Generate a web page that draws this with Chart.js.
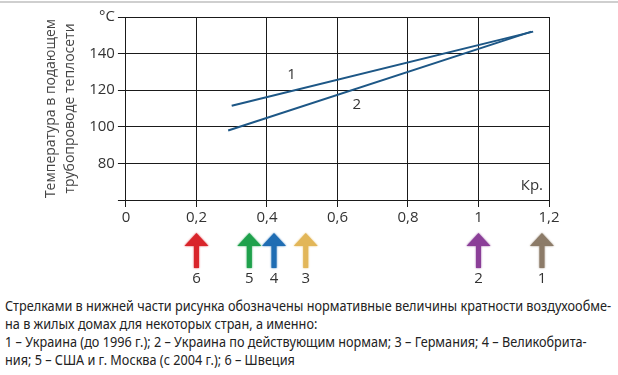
<!DOCTYPE html>
<html>
<head>
<meta charset="utf-8">
<script src="https://cdn.jsdelivr.net/npm/chart.js@4"></script>
<style>
    html, body { margin: 0; padding: 0; background: #fff; }
    body { width: 618px; height: 375px; position: relative; overflow: hidden; }
    .topline { position: absolute; left: 0; top: 1px; width: 618px; height: 2px; background: #cfcfcf; }
    .chart-box { position: absolute; left: 0; top: 0; width: 618px; height: 292px; }
    .caption {
        position: absolute; left: 5px; top: 296px;
        font-family: "Noto Sans", "Open Sans", sans-serif;
        font-size: 15px; line-height: 18px; color: #222;
        white-space: nowrap; transform-origin: 0 0;
    }
</style>
</head>
<body>
<div class="topline"></div>
<div class="chart-box"><canvas id="tempChart"></canvas></div>
<div class="caption" id="caption">
    <div id="cap-first">Стрелками в нижней части рисунка обозначены нормативные величины кратности воздухообме-</div>
    <div>на в жилых домах для некоторых стран, а именно:</div>
    <div>1 – Украина (до 1996 г.); 2 – Украина по действующим нормам; 3 – Германия; 4 – Великобрита-</div>
    <div>ния; 5 – США и г. Москва (с 2004 г.); 6 – Швеция</div>
</div>
<script>
// Data
const line1K = [0.3, 1.155];
const line1T = [111.5, 152];
const line2K = [0.29, 1.15];
const line2T = [98, 152];

const lineLabels = ['1', '2'];
const lineLabelK = [0.47, 0.655];
const lineLabelT = [128.5, 112];

const arrowK = [1.18, 1.0, 0.51, 0.42, 0.35, 0.2];
const arrowNames = ['1', '2', '3', '4', '5', '6'];
const arrowColors = ['#8c7b68', '#8b3f98', '#e2b658', '#1f6db3', '#1fa14c', '#d9252b'];

const yTitle = ['Температура в подающем', 'трубопроводе теплосети'];

const LINE_COLOR = '#1d5786';
const GRID_COLOR = '#1a1a1a';
const TEXT_COLOR = '#333';
const FONT = '"Open Sans", sans-serif';

// Squeeze the caption so the first line spans the picture width, like the condensed original
const caption = document.getElementById('caption');
const firstLine = document.getElementById('cap-first');
const capScale = 606 / firstLine.getBoundingClientRect().width;
caption.style.transform = 'scaleX(' + capScale + ')';

// Grid drawn from the scales' own ticks (the built-in grid drops lines when tick callbacks are used)
const gridLines = {
    id: 'gridLines',
    beforeDatasetsDraw(chart) {
        const { ctx, chartArea: a, scales: { x, y } } = chart;
        const align = p => Math.round(p - 0.5) + 0.5;
        ctx.save();
        ctx.strokeStyle = GRID_COLOR;
        ctx.lineWidth = 1;
        x.ticks.forEach(t => {
            const px = align(x.getPixelForValue(t.value));
            ctx.beginPath();
            ctx.moveTo(px, a.top);
            ctx.lineTo(px, a.bottom + 7);
            ctx.stroke();
        });
        y.ticks.forEach(t => {
            const py = align(y.getPixelForValue(t.value));
            ctx.beginPath();
            ctx.moveTo(a.left - 8, py);
            ctx.lineTo(a.right, py);
            ctx.stroke();
        });
        ctx.restore();
    }
};

// Labels "1", "2" near the lines and "Кр." inside plot
const annotations = {
    id: 'annotations',
    afterDatasetsDraw(chart) {
        const { ctx, scales: { x, y }, chartArea } = chart;
        ctx.save();
        ctx.fillStyle = TEXT_COLOR;
        ctx.font = '15px ' + FONT;
        ctx.textAlign = 'center';
        ctx.textBaseline = 'middle';
        lineLabels.forEach((t, i) => {
            ctx.fillText(t, x.getPixelForValue(lineLabelK[i]), y.getPixelForValue(lineLabelT[i]));
        });
        ctx.textAlign = 'right';
        ctx.fillText('Кр.', chartArea.right - 6, chartArea.bottom - 14);
        ctx.restore();
    }
};

// Arrows under the x axis
const arrows = {
    id: 'arrows',
    afterDraw(chart) {
        const { ctx, scales: { x } } = chart;
        const top = 233, headBase = 246, shaftEnd = 268;
        ctx.save();
        arrowK.forEach((k, i) => {
            const px = x.getPixelForValue(k);
            ctx.fillStyle = arrowColors[i];
            ctx.shadowColor = arrowColors[i];
            ctx.shadowBlur = 2;
            ctx.beginPath();
            ctx.moveTo(px, top);
            ctx.lineTo(px + 12, headBase);
            ctx.lineTo(px - 12, headBase);
            ctx.closePath();
            ctx.fill();
            ctx.fillRect(px - 2.5, headBase - 1, 5, shaftEnd - headBase + 1);
            ctx.shadowBlur = 0;
            ctx.fillStyle = TEXT_COLOR;
            ctx.font = '15px ' + FONT;
            ctx.textAlign = 'center';
            ctx.textBaseline = 'middle';
            ctx.fillText(arrowNames[i], px, 279);
        });
        ctx.restore();
    }
};

function fmtK(v) {
    const r = Math.round(v * 10) / 10;
    return String(r).replace('.', ',');
}

const ctx = document.getElementById('tempChart').getContext('2d');
new Chart(ctx, {
    type: 'scatter',
    data: {
        datasets: [{
            data: line1K.map((k, i) => ({ x: k, y: line1T[i] })),
            showLine: true,
            borderColor: LINE_COLOR,
            borderWidth: 2,
            pointRadius: 0
        }, {
            data: line2K.map((k, i) => ({ x: k, y: line2T[i] })),
            showLine: true,
            borderColor: LINE_COLOR,
            borderWidth: 2,
            pointRadius: 0
        }]
    },
    options: {
        responsive: true,
        maintainAspectRatio: false,
        animation: false,
        layout: { padding: { top: 17, right: 69, left: 41, bottom: 63 } },
        plugins: { legend: { display: false }, tooltip: { enabled: false } },
        scales: {
            x: {
                type: 'linear',
                min: 0,
                max: 1.2,
                grid: { color: 'rgba(0,0,0,0)', tickLength: 7, tickColor: 'rgba(0,0,0,0)' },
                border: { display: true, color: GRID_COLOR, width: 1 },
                ticks: {
                    stepSize: 0.2,
                    color: TEXT_COLOR,
                    padding: 2,
                    font: { family: '"Open Sans"', size: 15 },
                    callback: v => fmtK(v)
                }
            },
            y: {
                type: 'linear',
                min: 60,
                max: 160,
                grid: { color: 'rgba(0,0,0,0)', tickLength: 8, tickColor: 'rgba(0,0,0,0)' },
                border: { display: false },
                ticks: {
                    stepSize: 20,
                    color: TEXT_COLOR,
                    padding: 3,
                    font: { family: '"Open Sans"', size: 15 },
                    callback: v => v === 160 ? '°C' : (v === 60 ? '' : v)
                },
                title: {
                    display: true,
                    text: yTitle,
                    color: '#444',
                    font: { family: '"Open Sans"', size: 14, lineHeight: 1.4 },
                    padding: { top: 0, bottom: 6 }
                }
            }
        }
    },
    plugins: [gridLines, annotations, arrows]
});
</script>
</body>
</html>
